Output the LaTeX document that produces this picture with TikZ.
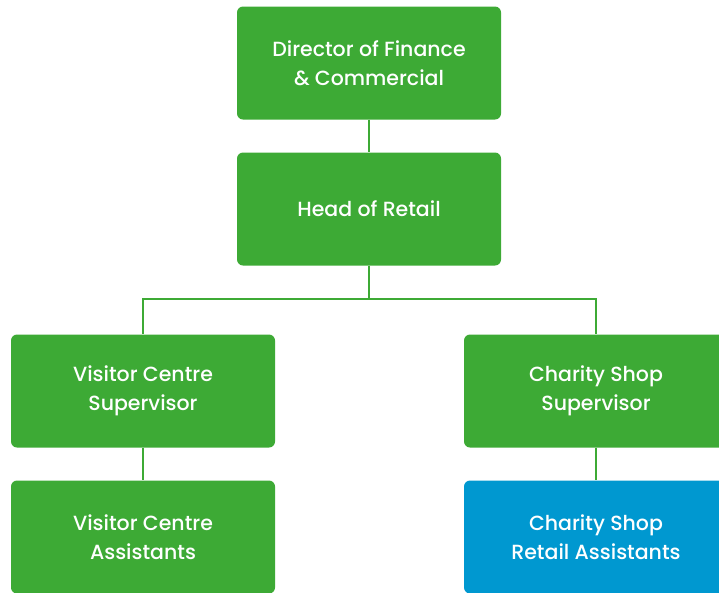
\documentclass[tikz,border=0pt]{standalone}
\usepackage{fontspec}
\setmainfont{Poppins}[UprightFont={* Medium}]
\definecolor{chart-green}{RGB}{61,170,53}
\definecolor{chart-blue}{RGB}{0,152,208}
\tikzset{
  post/.style={fill=chart-green, text=white, rounded corners=6pt,
    minimum width=264pt, minimum height=113pt, align=center,
    font=\fontsize{20.5}{29}\selectfont},
  link/.style={draw=chart-green, line width=2pt},
}
\begin{document}
\begin{tikzpicture}[x=1pt, y=-1pt]
    \useasboundingbox (0,0) rectangle (719,592);
    \node[post] (director) at (369,63) {Director of Finance\\\& Commercial};
    \node[post] (head) at (369,209) {Head of Retail};
    \node[post] (vcsup) at (143,391) {Visitor Centre\\Supervisor};
    \node[post] (cssup) at (596,391) {Charity Shop\\Supervisor};
    \node[post] (vcass) at (143,537) {Visitor Centre\\Assistants};
    \node[post, fill=chart-blue] (csass) at (596,537) {Charity Shop\\Retail Assistants};
    \coordinate (bus) at (369,299);
    \draw[link] (director) -- (head);
    \draw[link] (head) -- (bus) -| (vcsup);
    \draw[link] (bus) -| (cssup);
    \draw[link] (vcsup) -- (vcass);
    \draw[link] (cssup) -- (csass);
  \end{tikzpicture}
\end{document}
